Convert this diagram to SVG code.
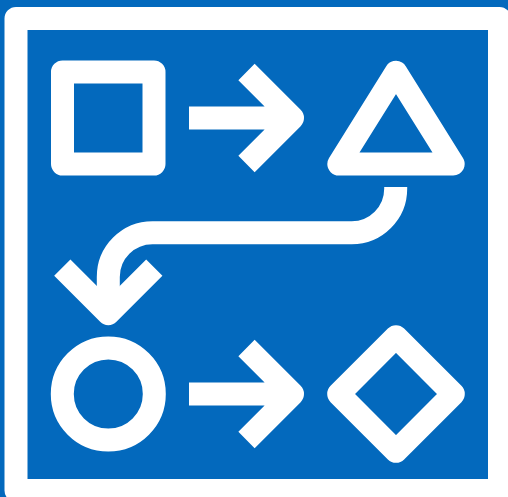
<svg xmlns="http://www.w3.org/2000/svg" width="508" height="497" viewBox="0 0 508 497">
<style>
.s{fill:none;stroke:#fff;stroke-width:23;stroke-linejoin:round;stroke-linecap:butt}
</style>
<defs>
<path id="arrow" d="M189 0H292.5M246.5 -46L292.5 0L246.5 46"/>
</defs>
<rect width="508" height="497" fill="#0369bd"/>
<g id="frame"><rect class="s" x="16" y="18.5" width="483.5" height="472"/></g>
<g id="square"><rect class="s" x="62.5" y="72" width="91.5" height="92"/></g>
<g id="triangle"><path class="s" d="M396 72.3L453.2 164H338.8Z"/></g>
<g id="circle"><circle class="s" cx="108.3" cy="394" r="46"/></g>
<g id="diamond"><path class="s" d="M396 336.7L453.3 394L396 451.3L338.7 394Z"/></g>
<g id="connectors">
<use class="s" href="#arrow" transform="translate(0 118)"/>
<use class="s" href="#arrow" transform="translate(0 394)"/>
<path class="s" d="M395.7 187V188.7A44 44 0 0 1 351.7 232.7H152.5A44.2 44.2 0 0 0 108.3 276.9V313.7"/>
<path class="s" d="M62.3 267.7L108.3 313.7L154.3 267.7"/>
</g>
</svg>
